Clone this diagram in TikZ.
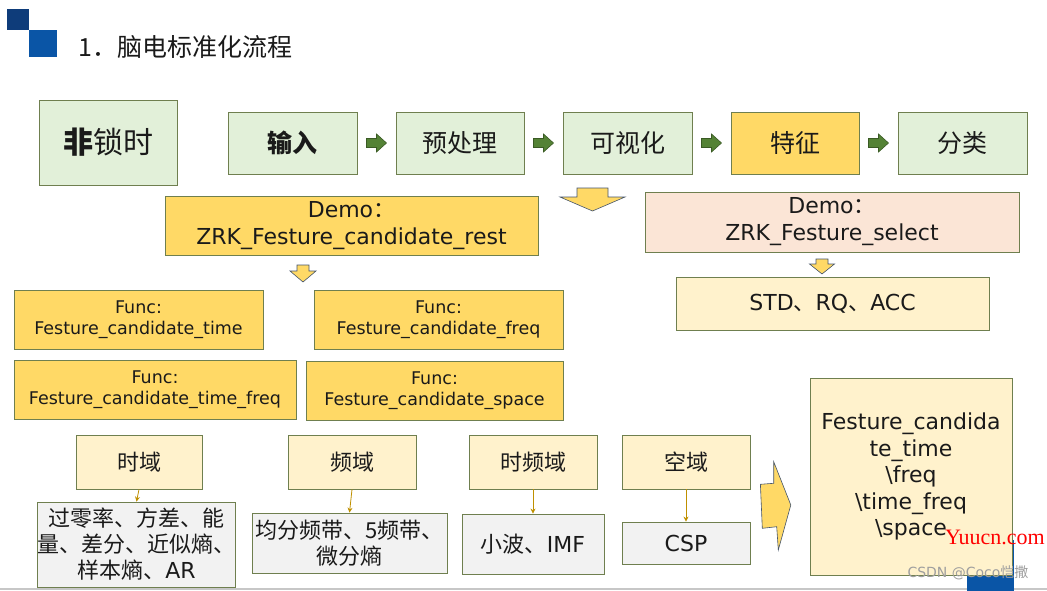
\documentclass[tikz,border=0pt]{standalone}
\usepackage{fontspec}
\setmainfont{DejaVu Sans}
\newfontfamily\cjk{Noto Sans CJK SC}
\newfontfamily\wmfont{Liberation Serif}
\newcommand{\zh}[1]{{\cjk #1}}
\usetikzlibrary{arrows.meta,calc}
\definecolor{lgreen}{HTML}{E2F0D9}
\definecolor{gold}{HTML}{FFD966}
\definecolor{lyellow}{HTML}{FFF2CC}
\definecolor{peach}{HTML}{FBE5D6}
\definecolor{lgray}{HTML}{F2F2F2}
\definecolor{bxborder}{HTML}{6F7F4F}
\definecolor{darr}{HTML}{548235}
\definecolor{darrb}{HTML}{3A5A24}
\definecolor{thinarr}{HTML}{BF9000}
\definecolor{blu1}{HTML}{0E3C7A}
\definecolor{blu2}{HTML}{0A55A6}
\definecolor{arrb}{HTML}{44546A}
\definecolor{txt}{HTML}{1A1A1A}
\tikzset{
  box/.style={draw=bxborder, line width=0.8pt, inner sep=0pt, align=center, text=txt},
  topbox/.style={box, fill=lgreen, minimum height=62, font=\cjk\fontsize{25}{25}\selectfont},
  demobox/.style={box, font=\fontsize{22}{27}\selectfont},
  funcbox/.style={box, fill=gold, minimum height=59, font=\fontsize{17.5}{21}\selectfont},
  dombox/.style={box, fill=lyellow, minimum height=54, minimum width=128, font=\cjk\fontsize{22}{22}\selectfont},
  valbox/.style={box, fill=lgray, font=\fontsize{22}{26}\selectfont},
  thin/.style={draw=thinarr, line width=0.8pt, -{Stealth[length=5pt,width=5pt]}},
  garr/.style={fill=darr, draw=darrb, line width=0.6pt},
  yarr/.style={fill=gold, draw=arrb, line width=0.6pt}
}
\newcommand{\garrow}[2]{%
  \path (#1.east) -- (#2.west) coordinate[midway] (m#1#2);
  \draw[garr, shift={(m#1#2)}] (-10,-4.5) -- (0,-4.5) -- (0,-9) -- (10,0) -- (0,9) -- (0,4.5) -- (-10,4.5) -- cycle;}
% cx, top, shaft half width, head half width, shaft height, head height
\newcommand{\yarrow}[6]{%
  \draw[yarr] ({#1-#3},#2) -- ({#1+#3},#2) -- ({#1+#3},{#2+#5}) -- ({#1+#4},{#2+#5}) -- (#1,{#2+#5+#6}) -- ({#1-#4},{#2+#5}) -- ({#1-#3},{#2+#5}) -- cycle;}
\begin{document}
\begin{tikzpicture}[x=1pt,y=-1pt]
\useasboundingbox (0,0) rectangle (1047,591);
\fill[white] (0,0) rectangle (1047,591);
% logo and title
\fill[blu1] (7,9) rectangle (29,30);
\fill[blu2] (29,30) rectangle (57,57);
\node[anchor=west, inner sep=0pt, text=txt, font=\cjk\fontsize{25}{25}\selectfont] (title) at (78,47) {1．脑电标准化流程};
% bottom line and slide decoration
\draw[line width=1.5pt, draw=black!22] (0,589) -- (1047,589);
\fill[blu2] (967,540) rectangle (1014,591);
% top row
\node[box, fill=lgreen, minimum width=138, minimum height=85, font=\cjk\fontsize{30}{30}\selectfont] (nonlock) at (108,142.5) {{\bfseries 非}锁时};
\node[topbox, minimum width=129] (input) at (292.5,143) {\bfseries 输入};
\node[topbox, minimum width=128] (pre) at (460,143) {预处理};
\node[topbox, minimum width=129] (vis) at (627.5,143) {可视化};
\node[topbox, minimum width=128, fill=gold] (feat) at (795,143) {特征};
\node[topbox, minimum width=129] (cls) at (962.5,143) {分类};
\garrow{input}{pre}
\garrow{pre}{vis}
\garrow{vis}{feat}
\garrow{feat}{cls}
% demos
\yarrow{592.5}{188}{15.5}{32.5}{9}{14}
\node[demobox, fill=gold, minimum width=373, minimum height=59] (demoR) at (351.5,225.5) {Demo\zh{：}\\ZRK\_Festure\_candidate\_rest};
\node[demobox, fill=peach, minimum width=374, minimum height=60] (demoS) at (832,222) {Demo\zh{：}\\ZRK\_Festure\_select};
\yarrow{822}{259}{6}{12.5}{5}{10}
\node[demobox, fill=lyellow, minimum width=313, minimum height=53] (std) at (832.5,303.5) {STD\zh{、}RQ\zh{、}ACC};
\yarrow{303}{265}{6}{13}{6}{11}
% funcs
\node[funcbox, minimum width=249] (fT) at (138.5,319.5) {Func:\\Festure\_candidate\_time};
\node[funcbox, minimum width=249] (fF) at (438.5,319.5) {Func:\\Festure\_candidate\_freq};
\node[funcbox, minimum width=282] (fTF) at (155,389.5) {Func:\\Festure\_candidate\_time\_freq};
\node[funcbox, minimum width=257] (fS) at (434.5,390.5) {Func:\\Festure\_candidate\_space};
% domains
\node[dombox, minimum width=126] (tD) at (139,462) {时域};
\node[dombox] (fD) at (352,462) {频域};
\node[dombox] (tfD) at (533,462) {时频域};
\node[dombox] (sD) at (686,462) {空域};
\node[valbox, minimum width=195, minimum height=85] (tDv) at (136.5,544.5) {\zh{过零率、方差、能}\\\zh{量、差分、近似熵、}\\\zh{样本熵、}AR};
\node[valbox, minimum width=195, minimum height=60] (fDv) at (349.5,543) {\zh{均分频带、5频带、}\\\zh{微分熵}};
\node[valbox, minimum width=142, minimum height=60] (tfDv) at (533,544) {\zh{小波、}IMF};
\node[valbox, minimum width=128, minimum height=42] (sDv) at (686,543) {CSP};
\draw[thin] (tD.south) -- (tDv.north);
\draw[thin] (fD.south) -- (fDv.north);
\draw[thin] (tfD.south) -- (tfDv.north);
\draw[thin] (sD.south) -- (sDv.north);
% big right arrow
\draw[yarr] (760.4,484.3) -- (773.7,483.3) -- (773.7,461.7) -- (790.8,505) -- (778.3,550) -- (776.7,526.7) -- (762.3,528.3) -- cycle;
\node[box, fill=lyellow, minimum width=202, minimum height=197, font=\fontsize{22}{26.5}\selectfont] (res) at (911,476.5) {Festure\_candida\\te\_time\\\textbackslash freq\\\textbackslash time\_freq\\\textbackslash space};
% watermarks
\node[inner sep=0pt, text=red, font=\wmfont\fontsize{22}{22}\selectfont] (wm1) at (995,537) {Yuucn.com};
\node[inner sep=0pt, text=black!38, font=\fontsize{14}{14}\selectfont] (wm2) at (968,573) {CSDN @Coco\zh{恺撒}};
\end{tikzpicture}
\end{document}
